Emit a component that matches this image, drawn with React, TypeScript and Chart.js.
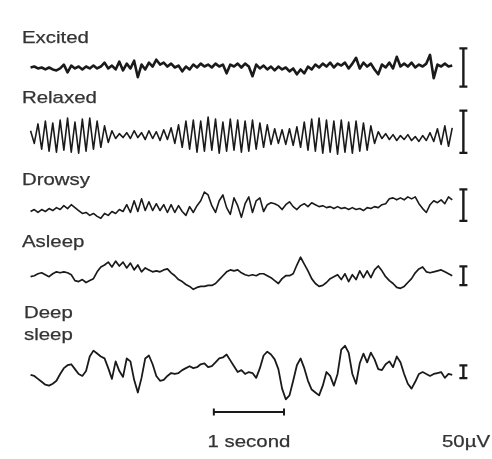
import { useEffect, useRef } from 'react';
import { Chart, registerables } from 'chart.js';

Chart.register(...registerables);

// ---------- data ----------
const stateLabels = ['Excited', 'Relaxed', 'Drowsy', 'Asleep', 'Deep sleep'];
const sampleInterval = 0.0527; // seconds between read samples
const timeBarSeconds = 1;
const timeBarLabel = '1 second';
const ampBarLabel = '50µV';

// deflection of each trace (display units, up = positive)
const excited = [
  -1, 0, -2, -1, -3, -1, -3, -4, -2, 2,
  -6, 1, -2, 0, -3, 0, -2, 1, -2, 0,
  4, -2, 1, -3, 5, -4, 3, -2, 6, -11,
  2, -3, 4, 0, 7, 2, 4, 0, 3, -1,
  1, -5, 0, -3, 2, -1, 3, 0, 2, -1,
  3, 0, 2, -7, 2, 0, 3, -1, 3, 0,
  -10, 2, -2, 1, -3, 0, -4, 0, -3, -1,
  -5, -2, -8, -3, -7, 0, -3, 2, -1, 3,
  0, 4, -1, 3, 1, 4, -2, 3, 9, -2,
  4, 0, 3, -3, -8, 2, -1, 4, -2, 10,
  0, 3, 0, 4, -1, 2, 0, 3, 12, -12,
  2, 0, 3, 0, 1,
];
const relaxed = [
  5, -8, 12, -14, 15, -16, 13, -17, 16, -15,
  18, -17, 14, -18, 17, -16, 18, -14, 15, -12,
  10, -7, 5, -3, 2, -2, 3, -3, 5, -2,
  3, -4, 5, -3, 4, -5, 6, -4, 8, -8,
  11, -12, 15, -14, 16, -17, 15, -16, 19, -15,
  17, -18, 14, -16, 17, -15, 16, -17, 15, -16,
  16, -14, 13, -12, 11, -9, 7, -8, 6, -9,
  7, -10, 9, -12, 14, -15, 17, -16, 18, -18,
  16, -17, 15, -19, 16, -17, 14, -18, 15, -16,
  13, -15, 10, -8, 4, -3, 2, -4, 1, -5,
  0, -4, 1, -5, -1, -6, 0, -5, 3, -6,
  7, -9, 10, -11, 8,
];
const drowsy = [
  -6, -4, -7, -4, -6, -3, -5, -2, -4, 0,
  -3, 1, -2, -5, -8, -7, -10, -8, -11, -13,
  -8, -10, -6, -8, -4, -6, 1, -7, 5, -6,
  7, -5, 4, -5, 2, -5, 1, -7, 1, -7,
  0, -6, -10, -1, -7, 0, 5, 14, 11, 0,
  -7, 5, 11, -2, -9, 8, 0, -12, 2, 9,
  -7, 5, 8, -6, 1, 3, 2, 0, -4, 1,
  4, -1, -4, 0, 2, -1, 3, 1, -1, 0,
  -2, -1, -3, -1, -3, -2, -4, -2, -4, -3,
  -5, -2, -3, -1, -2, 1, 2, 7, 8, 6,
  8, 6, 9, 7, 9, 2, -3, -7, 1, 5,
  3, 6, 2, 9, 6,
];
const asleep = [
  -1, 0, 2, 3, 1, -1, 2, 4, 3, 4,
  3, 1, -5, -6, -4, -7, -5, -3, 4, 9,
  11, 14, 9, 15, 10, 14, 8, 13, 6, 11,
  4, 8, 6, 4, 5, 4, 6, 7, 3, 0,
  -4, -6, -9, -11, -14, -12, -11, -11, -10, -10,
  -8, -4, 0, 4, 6, 5, 6, 3, 1, 0,
  1, 0, 2, 2, 0, -2, -5, -8, -3, 0,
  0, 2, 11, 19, 12, 5, -3, -8, -11, -10,
  -7, -3, -1, 1, -4, 2, -6, 1, -4, 5,
  -2, 5, -2, 6, 10, 5, -1, -5, -8, -12,
  -13, -11, -7, -3, 3, 7, 9, 4, 3, 4,
  5, 6, 4, 2, 0,
];
const deepSleep = [
  -2, -3, -6, -9, -12, -13, -11, -8, -1, 5,
  8, 9, 4, -1, -3, 2, 17, 23, 20, 17,
  15, 5, -6, 12, 2, -4, 15, 12, -7, -20,
  -5, 15, 18, 9, -3, -8, -7, -3, 0, -1,
  0, 3, 5, 7, 5, 6, 9, 10, 6, 7,
  11, 15, 16, 19, 13, 7, 1, 3, -1, 1,
  0, -5, 5, 18, 22, 19, 14, 4, -16, -27,
  -23, -8, 8, 15, 5, -8, -17, -20, -23, -13,
  1, -3, -13, -1, 24, 28, 21, -1, -11, 10,
  20, 11, 21, 14, 4, 3, 9, 12, 6, 17,
  11, -1, -11, -16, -9, -1, 1, -1, -3, -1,
  0, 1, -5, -1, -2,
];
// height of the 50 µV calibration bar on each row (display units)
const calibrationHeights = [39.5, 43.4, 32.4, 19.4, 13.3];

// ---------- layout ----------
const W = 492;
const H = 459;
const PX_PER_SEC = 72;
const X0 = 25; // pixel where traces start
const rowBaselines = [62, 133, 205, 277, 377];
const barCenters = [63, 129, 204.5, 277, 375.7];
const barTime = (469 - X0) / PX_PER_SEC;
const timeBarStart = (213 - X0) / PX_PER_SEC;
const timeBarY = 417;
const traceWidths = [2.6, 1.6, 1.6, 1.7, 1.8];
const INK = '#1a1a1a';
const TEXT = '#333333';
const FONT = '17px "Liberation Sans", Arial, Helvetica, sans-serif';
const STRETCH = 1.2;

const traces = [excited, relaxed, drowsy, asleep, deepSleep];

const textPlugin = {
  id: 'eegText',
  afterDraw(chart: any) {
    const ctx = chart.ctx as CanvasRenderingContext2D;
    const xs = chart.scales.x;
    const put = (t: string, x: number, y: number, align: CanvasTextAlign = 'left') => {
      ctx.save();
      ctx.translate(x, y);
      ctx.scale(STRETCH, 1);
      ctx.textAlign = align;
      ctx.fillText(t, 0, 0);
      ctx.strokeText(t, 0, 0);
      ctx.restore();
    };
    ctx.save();
    ctx.fillStyle = TEXT;
    ctx.strokeStyle = TEXT;
    ctx.lineWidth = 0.25;
    ctx.font = FONT;
    ctx.textBaseline = 'alphabetic';
    const labelY = [43, 103, 185, 247];
    for (let i = 0; i < 4; i++) put(stateLabels[i], 22, labelY[i]);
    const [w1, w2] = stateLabels[4].split(' ');
    put(w1, 24, 318);
    put(w2, 24, 340);
    const cx = (xs.getPixelForValue(timeBarStart) + xs.getPixelForValue(timeBarStart + timeBarSeconds)) / 2;
    put(timeBarLabel, cx, 447, 'center');
    put(ampBarLabel, 442, 447);
    ctx.restore();
  },
};

export default function App() {
  const ref = useRef<HTMLCanvasElement | null>(null);
  useEffect(() => {
    if (!ref.current) return;
    const datasets: any[] = [];
    traces.forEach((vals, r) => {
      datasets.push({
        label: stateLabels[r],
        data: vals.map((v, i) => ({ x: i * sampleInterval, y: rowBaselines[r] - v })),
        borderColor: INK,
        borderWidth: traceWidths[r],
        pointRadius: 0,
        tension: 0,
        borderJoinStyle: 'round',
      });
      const h = calibrationHeights[r];
      datasets.push({
        label: stateLabels[r] + ' 50µV',
        data: [
          { x: barTime, y: barCenters[r] - h / 2 },
          { x: barTime, y: barCenters[r] + h / 2 },
        ],
        borderColor: INK,
        borderWidth: 2.4,
        pointStyle: 'line',
        pointRadius: 4,
        pointBorderWidth: 2.2,
        pointBorderColor: INK,
      });
    });
    datasets.push({
      label: timeBarLabel,
      data: [
        { x: timeBarStart, y: timeBarY },
        { x: timeBarStart + timeBarSeconds, y: timeBarY },
      ],
      borderColor: INK,
      borderWidth: 2,
      pointStyle: 'line',
      pointRotation: 90,
      pointRadius: 3.5,
      pointBorderWidth: 2,
      pointBorderColor: INK,
    });
    const chart = new Chart(ref.current, {
      type: 'line',
      data: { datasets },
      options: {
        animation: false,
        responsive: false,
        maintainAspectRatio: false,
        layout: { padding: 0 },
        events: [],
        scales: {
          x: { type: 'linear', min: -X0 / PX_PER_SEC, max: (W - X0) / PX_PER_SEC, display: false },
          y: { type: 'linear', min: 0, max: H, reverse: true, display: false },
        },
        plugins: { legend: { display: false }, tooltip: { enabled: false }, title: { display: false } },
      },
      plugins: [textPlugin],
    });
    return () => chart.destroy();
  }, []);
  return (
    <div style={{ position: 'fixed', left: 0, top: 0, width: W, height: H, background: '#fff' }}>
      <canvas ref={ref} width={W} height={H} style={{ width: W, height: H, display: 'block' }} />
    </div>
  );
}
